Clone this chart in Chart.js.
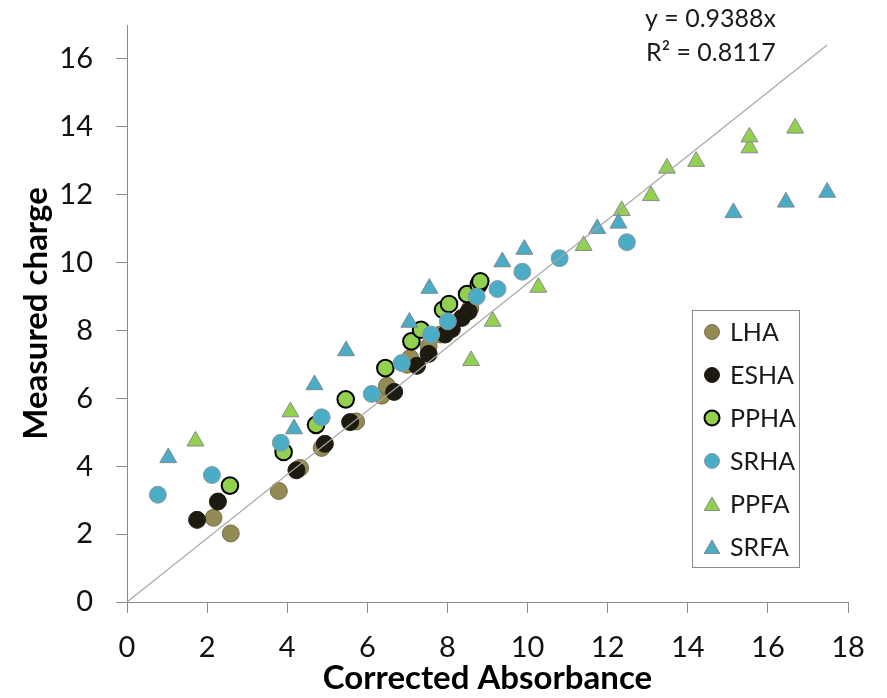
<!DOCTYPE html>
<html><head><meta charset="utf-8">
<script src="https://cdn.jsdelivr.net/npm/chart.js@4/dist/chart.umd.min.js"></script>
<style>html,body{margin:0;padding:0;background:#fff;overflow:hidden}</style>
</head><body>
<canvas id="c" width="887" height="698"></canvas>
<script>
// ---- data ----
const seriesNames = ['LHA', 'ESHA', 'PPHA', 'SRHA', 'PPFA', 'SRFA'];

const lhaX = [2.16, 2.59, 3.79, 4.32, 4.86, 5.72, 6.36, 6.49, 6.99, 7.07, 7.53, 7.82, 8.57];
const lhaY = [2.48, 2.02, 3.27, 3.95, 4.54, 5.32, 6.08, 6.37, 6.99, 7.19, 7.53, 7.88, 8.66];

const eshaX = [1.75, 2.27, 4.23, 4.94, 5.57, 6.67, 7.24, 7.53, 7.94, 8.11, 8.36, 8.53];
const eshaY = [2.42, 2.96, 3.88, 4.66, 5.30, 6.19, 6.96, 7.31, 7.88, 8.04, 8.37, 8.56];

const pphaX = [2.57, 3.91, 4.72, 5.46, 6.45, 7.10, 7.34, 7.89, 8.04, 8.49, 8.78, 8.82];
const pphaY = [3.43, 4.42, 5.22, 5.97, 6.89, 7.68, 8.02, 8.61, 8.78, 9.07, 9.35, 9.45];

const srhaX = [0.77, 2.12, 3.84, 4.86, 6.11, 6.86, 7.59, 8.01, 8.73, 9.25, 9.87, 10.80, 12.48];
const srhaY = [3.16, 3.74, 4.69, 5.44, 6.13, 7.04, 7.88, 8.27, 9.00, 9.22, 9.73, 10.13, 10.60];

const ppfaX = [1.71, 4.08, 8.59, 9.13, 10.27, 11.40, 12.35, 13.08, 13.48, 14.21, 15.54, 15.54, 16.68];
const ppfaY = [4.74, 5.60, 7.11, 8.27, 9.27, 10.50, 11.53, 11.97, 12.78, 12.98, 13.38, 13.70, 13.96];

const srfaX = [1.03, 4.17, 4.68, 5.47, 7.05, 7.55, 9.37, 9.92, 11.74, 12.27, 15.14, 16.45, 17.48];
const srfaY = [4.25, 5.10, 6.40, 7.40, 8.24, 9.24, 10.02, 10.39, 11.00, 11.16, 11.47, 11.78, 12.07];

const trendX = [0, 17.48];
const trendY = [0, 16.41];

const xTicks = [0, 2, 4, 6, 8, 10, 12, 14, 16, 18];
const yTicks = [0, 2, 4, 6, 8, 10, 12, 14, 16];
const equationLines = ['y = 0.9388x', 'R\u00B2 = 0.8117'];

// ---- helpers ----
const pts = (xs, ys) => xs.map((x, i) => ({x: x, y: ys[i]}));
const AXIS = '#8a8a8a';
const FONT = 'Lato, "Open Sans", sans-serif';

const styles = [
  {pointStyle: 'circle',   radius: 8.5, bg: '#948A54', border: 'rgba(110,104,70,0.9)', bw: 1},
  {pointStyle: 'circle',   radius: 8.5, bg: '#1D1B10', border: '#1D1B10', bw: 1},
  {pointStyle: 'circle',   radius: 8.3, bg: '#92D050', border: '#000000', bw: 2},
  {pointStyle: 'circle',   radius: 8.5, bg: '#4BACC6', border: '#8c9aa0', bw: 1},
  {pointStyle: 'triangle', radius: 9.8, bg: '#92D050', border: '#8a8a8a', bw: 1},
  {pointStyle: 'triangle', radius: 9.8, bg: '#4BACC6', border: '#7f8a8f', bw: 1}
];
const dataXs = [lhaX, eshaX, pphaX, srhaX, ppfaX, srfaX];
const dataYs = [lhaY, eshaY, pphaY, srhaY, ppfaY, srfaY];

const datasets = seriesNames.map((name, i) => ({
  label: name,
  data: pts(dataXs[i], dataYs[i]),
  pointStyle: styles[i].pointStyle,
  pointRadius: styles[i].radius,
  pointHoverRadius: styles[i].radius,
  backgroundColor: styles[i].bg,
  borderColor: styles[i].border,
  pointBorderWidth: styles[i].bw,
  borderWidth: styles[i].bw,
  showLine: false,
  order: 6 - i + 1
}));
datasets.push({
  label: 'trend',
  data: pts(trendX, trendY),
  showLine: true,
  borderColor: '#a6a6a6',
  borderWidth: 1.2,
  pointRadius: 0,
  fill: false,
  order: 0
});

const overlay = {
  id: 'overlay',
  afterDraw(chart) {
    const ctx = chart.ctx;
    ctx.save();
    // equation text
    ctx.fillStyle = '#1a1a1a';
    ctx.font = '25px ' + FONT;
    ctx.textAlign = 'left';
    ctx.textBaseline = 'alphabetic';
    ctx.fillText(equationLines[0], 645, 27);
    ctx.fillText(equationLines[1], 646, 61);
    // legend box
    const bx = 692.5, by = 310.5, bw = 107, bh = 257;
    ctx.fillStyle = '#ffffff';
    ctx.fillRect(bx, by, bw, bh);
    ctx.strokeStyle = '#8a8a8a';
    ctx.lineWidth = 1;
    ctx.strokeRect(bx, by, bw, bh);
    ctx.font = '25px ' + FONT;
    ctx.textBaseline = 'middle';
    seriesNames.forEach((name, i) => {
      const yy = 332 + i * 43;
      const st = styles[i];
      ctx.fillStyle = st.bg;
      ctx.strokeStyle = st.border;
      ctx.lineWidth = st.bw;
      Chart.helpers.drawPoint(ctx, {pointStyle: st.pointStyle, radius: st.pointStyle === 'triangle' ? 9 : 7.5, rotation: 0, borderWidth: st.bw}, 712, st.pointStyle === 'triangle' ? yy + 2 : yy);
      ctx.fillStyle = '#1a1a1a';
      ctx.fillText(name, 730, yy + 1);
    });
    ctx.restore();
  }
};

new Chart(document.getElementById('c'), {
  type: 'scatter',
  data: {datasets: datasets},
  options: {
    responsive: false,
    animation: false,
    devicePixelRatio: 1,
    layout: {padding: {left: 0, right: 39, top: 25, bottom: 0}},
    plugins: {legend: {display: false}, tooltip: {enabled: false}},
    scales: {
      x: {
        type: 'linear', min: 0, max: 18,
        afterBuildTicks: s => { s.ticks = xTicks.map(v => ({value: v})); },
        afterFit: s => { s.height = 96; s.paddingLeft = 0; s.paddingRight = 0; },
        ticks: {color: '#111', font: {family: FONT, size: 29}, padding: 17, maxRotation: 0},
        grid: {drawOnChartArea: false, drawTicks: true, tickLength: 11, color: AXIS},
        border: {display: true, color: AXIS, width: 1},
        title: {display: true, text: 'Corrected Absorbance', color: '#000', font: {family: FONT, size: 33, weight: 'bold'}, padding: {top: 0, bottom: 0}}
      },
      y: {
        type: 'linear', min: 0, max: 17,
        afterBuildTicks: s => { s.ticks = yTicks.map(v => ({value: v})); },
        afterFit: s => { s.width = 127; s.paddingTop = 0; s.paddingBottom = 0; },
        ticks: {color: '#111', font: {family: FONT, size: 29}, padding: 23},
        grid: {drawOnChartArea: false, drawTicks: true, tickLength: 11, color: AXIS},
        border: {display: true, color: AXIS, width: 1},
        title: {display: true, text: 'Measured charge', color: '#000', font: {family: FONT, size: 33, weight: 'bold'}, padding: {top: 17, bottom: 0}}
      }
    }
  },
  plugins: [overlay]
});
</script>
</body></html>
